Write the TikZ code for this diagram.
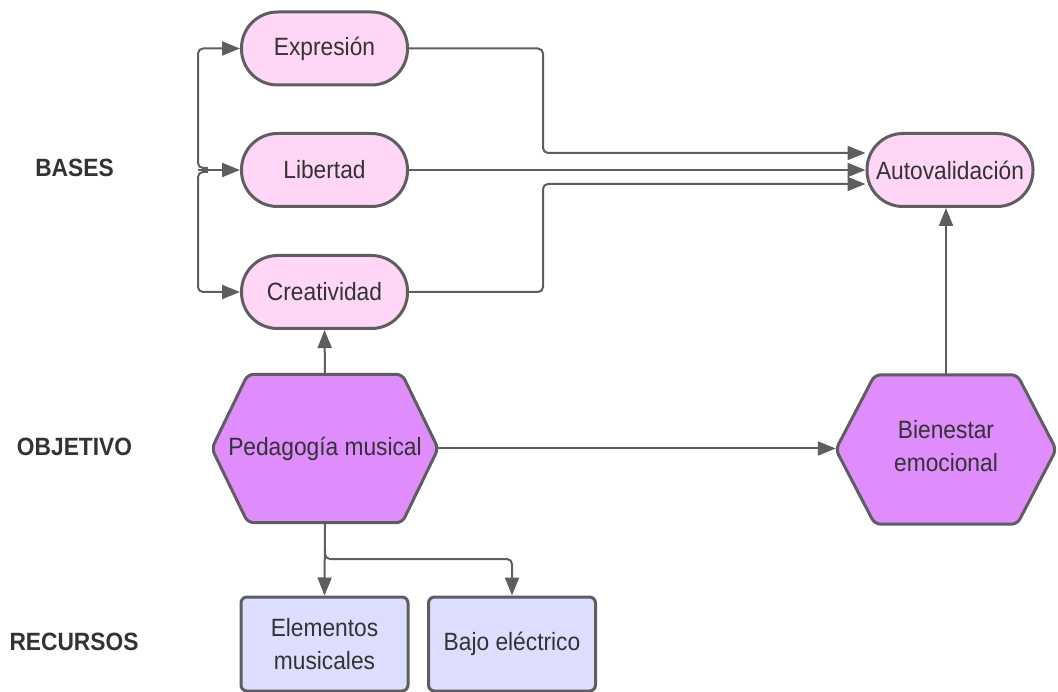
\documentclass[tikz,border=0pt]{standalone}
\usepackage{fontspec}
\setmainfont[FakeStretch=0.91]{Liberation Sans}
\usetikzlibrary{arrows.meta,backgrounds,calc}
\definecolor{strk}{HTML}{5E5E5E}
\definecolor{txt}{HTML}{333333}
\definecolor{pill}{HTML}{FFD6F6}
\definecolor{hexf}{HTML}{DF8CFC}
\definecolor{boxf}{HTML}{DDDDFF}
\tikzset{
  base/.style={text=txt, font=\fontsize{25pt}{33pt}\selectfont, align=center, inner sep=0pt},
  pillnode/.style={base, draw=strk, line width=3pt, fill=pill, rounded corners=36pt, minimum width=166pt, minimum height=73pt},
  boxnode/.style={base, draw=strk, line width=3pt, fill=boxf, rounded corners=6pt, minimum width=167pt, minimum height=94pt},
  hexnode/.style={base},
  hexshape/.style={draw=strk, line width=3pt, fill=hexf, rounded corners=6pt},
  lbl/.style={text=txt, font=\bfseries\fontsize{25pt}{30pt}\selectfont, inner sep=0pt},
  tip/.style={-{Triangle[length=18pt,width=14pt]}},
  conn/.style={draw=strk, line width=2pt, tip},
  bent/.style={draw=strk, line width=2pt, rounded corners=5pt, tip}
}
\begin{document}
\begin{tikzpicture}[x=1pt,y=-1pt]
\useasboundingbox (0,0) rectangle (1058,692);

% labels
\node[lbl] (lbases) at (74.5,168) {BASES};
\node[lbl] (lobj) at (74.5,447) {OBJETIVO};
\node[lbl] (lrec) at (74,642) {RECURSOS};

% pills
\node[pillnode] (expr) at (324.5,48.5) {Expresión};
\node[pillnode] (lib) at (324.5,170) {Libertad};
\node[pillnode] (crea) at (324.5,292) {Creatividad};
\node[pillnode] (auto) at (950,170) {Autovalidación};

% hexagons
\node[hexnode, minimum width=226pt, minimum height=148pt] (ped) at (325,448.5) {Pedagogía musical};
\node[hexnode, minimum width=220pt, minimum height=149pt] (bien) at (946,446.5) {Bienestar\\emocional};
\begin{pgfonlayer}{background}
\draw[hexshape] ([xshift=36pt]ped.north west) -- ([xshift=-36pt]ped.north east) -- (ped.east)
  -- ([xshift=-36pt]ped.south east) -- ([xshift=36pt]ped.south west) -- (ped.west) -- cycle;
\draw[hexshape] ([xshift=39pt,yshift=-3pt]bien.north west) -- ([xshift=-39pt,yshift=-3pt]bien.north east)
  -- ([yshift=-3pt]bien.east) -- ([xshift=-39pt,yshift=-3pt]bien.south east)
  -- ([xshift=39pt,yshift=-3pt]bien.south west) -- ([yshift=-3pt]bien.west) -- cycle;
\end{pgfonlayer}

% boxes
\node[boxnode] (elem) at (324.5,644) {Elementos\\musicales};
\node[boxnode] (bajo) at (512,644) {Bajo eléctrico};

% left hub
\coordinate (hub) at (198,170);
\draw[conn] (hub) -- (lib.west);
\draw[bent] ($(hub)+(10,-2)$) -- ($(hub)+(0,-2)$) |- (expr.west);
\draw[bent] ($(hub)+(10,2)$) -- ($(hub)+(0,2)$) |- (crea.west);

% to Autovalidacion
\coordinate (jx) at (543,170);
\draw[bent] (expr.east) -| ($(jx)+(0,-17)$) -- ([yshift=17pt]auto.west);
\draw[conn] (lib.east) -- (auto.west);
\draw[bent] (crea.east) -| ($(jx)+(0,14)$) -- ([yshift=-14pt]auto.west);

% Pedagogia connectors
\draw[conn] (ped.north) -- (crea.south);
\draw[conn] (ped.east) -- (ped.east -| bien.west);
\draw[conn] ([yshift=-3pt]bien.north) -- (bien.north |- auto.south);
\draw[conn] (ped.south) -- (elem.north);
\coordinate (br) at (325,559);
\draw[bent] ($(br)+(0,-10)$) -- (br) -| (bajo.north);
\end{tikzpicture}
\end{document}
